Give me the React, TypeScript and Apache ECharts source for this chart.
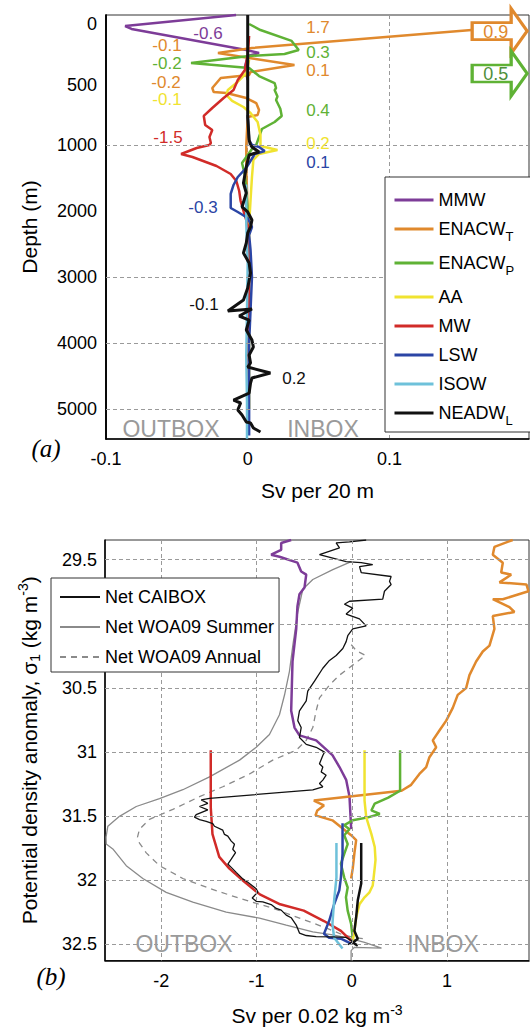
import React, { useEffect, useRef } from 'react';
import * as echarts from 'echarts';

const FONT = "'Liberation Sans', Arial, Helvetica, sans-serif";

const PURPLE = '#7D3C98';
const ORANGE = '#E0892D';
const GREEN = '#5FB235';
const YELLOW = '#F0E330';
const RED = '#D12B28';
const BLUE = '#2B45A5';
const CYAN = '#6EC1DA';
const BLACK = '#111111';
const GRAY = '#8a8a8a';

// Depth where the vertical scale of panel (a) changes
const DEPTH_BREAK = 1000;

// ---- Panel (a): transport per 20 m layer, [Sv, depth (m)] ----
const mmwA = [[-0.0082, -74], [-0.0865, 17], [-0.082, 41], [-0.001, 215], [0.008, 240], [0, 264], [-0.002, 355], [0, 463]];
const enacwTA = [[0.158, 50], [0.003, 198], [-0.021, 240], [0.001, 281], [0.033, 339], [0.002, 397], [0.001, 421], [-0.019, 446], [-0.025, 529], [-0.024, 562], [-0.015, 570], [-0.001, 612], [0.006, 653], [0.008, 711], [0.007, 752], [0, 769], [-0.001, 1000], [-0.001, 1379], [0, 2000], [0.001, 3000], [0, 4000], [0.001, 4700]];
const enacwPA = [[0.001, 0], [0.009, 50], [0.031, 140], [0.036, 215], [0.026, 248], [0.001, 264], [-0.04, 322], [0.001, 364], [0.008, 430], [0.019, 488], [0.02, 530], [0.019, 545], [0.021, 600], [0.02, 628], [0.023, 700], [0.024, 760], [0.019, 810], [0.01, 868], [0.008, 934], [0.006, 1000], [0.004, 1030], [-0.001, 1182], [-0.004, 1273], [-0.002, 1455], [-0.001, 1700], [0, 2000]];
const aaA = [[0.001, 298], [-0.001, 405], [-0.008, 488], [-0.014, 545], [-0.015, 587], [-0.011, 636], [-0.003, 686], [0.002, 736], [0.007, 810], [0.009, 917], [0.009, 1000], [0.009, 1015], [0.021, 1076], [0.008, 1136], [0.004, 1227], [0.003, 1485], [0.002, 1833], [0.001, 2212], [0.001, 3000], [0.001, 4000], [0.001, 5000]];
const mwA = [[0.001, 99], [0, 256], [-0.002, 380], [-0.007, 463], [-0.01, 545], [-0.017, 612], [-0.025, 694], [-0.031, 760], [-0.03, 835], [-0.025, 876], [-0.027, 934], [-0.026, 983], [-0.027, 1000], [-0.036, 1045], [-0.047, 1136], [-0.039, 1182], [-0.022, 1318], [-0.012, 1439], [-0.008, 1545], [-0.006, 1697], [-0.005, 1848], [-0.003, 2000], [0, 2212], [0.001, 3000], [0.0005, 4000], [0.0005, 5000]];
const lswA = [[0, 752], [0.001, 959], [0.003, 1000], [0.008, 1030], [0.012, 1091], [0.005, 1136], [-0.001, 1348], [-0.007, 1485], [-0.01, 1606], [-0.012, 1742], [-0.012, 1848], [-0.012, 1955], [-0.007, 2015], [0, 2106], [0.003, 2242], [0.001, 2364], [0.002, 2590], [0.003, 3000], [0.002, 3500], [0.001, 4000], [0.001, 4500], [0.001, 5000], [0.001, 5400]];
const isowA = [[-0.001, 1600], [-0.001, 2200], [0, 2800], [-0.0005, 3500], [-0.001, 4200], [-0.0005, 4900], [-0.0005, 5450]];
const neadwA = [[0, -74], [0, 769], [0.001, 959], [0.002, 1000], [0.003, 1030], [0.008, 1106], [0.001, 1152], [-0.001, 1333], [-0.003, 1576], [-0.001, 1727], [-0.004, 1939], [0, 2015], [0.003, 2136], [0.002, 2242], [0, 2333], [-0.001, 2485], [-0.003, 2636], [0.001, 2788], [0.002, 2939], [0, 3167], [-0.003, 3348], [-0.014, 3515], [0.003, 3485], [-0.006, 3591], [0.001, 3652], [-0.001, 3803], [0.003, 3955], [0.004, 4061], [0.001, 4182], [0.002, 4303], [0, 4364], [0.016, 4455], [0.003, 4530], [0.002, 4606], [0.001, 4758], [-0.01, 4864], [-0.005, 4909], [-0.007, 5015], [-0.004, 5091], [-0.001, 5197], [0.002, 5212], [0.004, 5288], [0.009, 5348]];

// ---- Panel (b): transport per 0.02 kg m-3 class, [Sv, sigma1] ----
const mmwB = [[-0.636, 29.346], [-0.741, 29.369], [-0.741, 29.423], [-0.846, 29.461], [-0.759, 29.477], [-0.57, 29.523], [-0.531, 29.592], [-0.478, 29.616], [-0.496, 29.716], [-0.549, 29.77], [-0.57, 29.862], [-0.583, 30.039], [-0.622, 30.294], [-0.636, 30.679], [-0.601, 30.81], [-0.549, 30.871], [-0.374, 30.91], [-0.203, 31.025], [-0.129, 31.118], [-0.059, 31.218], [-0.024, 31.349], [-0.006, 31.603]];
const enacwTB = [[1.689, 29.346], [1.497, 29.4], [1.48, 29.461], [1.585, 29.523], [1.568, 29.6], [1.673, 29.616], [1.55, 29.677], [1.833, 29.693], [1.854, 29.746], [1.585, 29.808], [1.48, 29.808], [1.655, 29.87], [1.707, 29.908], [1.48, 29.939], [1.497, 30.039], [1.445, 30.17], [1.375, 30.216], [1.305, 30.294], [1.235, 30.401], [1.2, 30.502], [1.112, 30.555], [1.06, 30.656], [0.991, 30.756], [0.92, 30.833], [0.85, 30.91], [0.886, 30.964], [0.815, 31.041], [0.781, 31.118], [0.71, 31.172], [0.623, 31.257], [0.522, 31.303], [-0.398, 31.38], [-0.292, 31.418], [-0.362, 31.457], [-0.381, 31.495], [-0.203, 31.534], [-0.007, 31.65], [0.046, 31.688], [0.028, 31.788], [0.01, 31.911], [-0.007, 31.988]];
const enacwPB = [[0.507, 30.987], [0.507, 31.303], [0.383, 31.357], [0.241, 31.403], [0.206, 31.457], [0.294, 31.484], [0.17, 31.511], [0.01, 31.534], [-0.079, 31.572], [-0.024, 31.603], [-0.079, 31.65], [-0.043, 31.719], [-0.079, 31.796], [-0.114, 31.873], [-0.079, 31.981], [-0.043, 32.058], [-0.061, 32.135], [-0.043, 32.239], [-0.007, 32.343], [0.01, 32.451]];
const aaB = [[0.134, 30.987], [0.134, 31.38], [0.152, 31.511], [0.206, 31.642], [0.241, 31.742], [0.249, 31.842], [0.241, 31.903], [0.22, 32.042], [0.186, 32.096], [0.134, 32.135], [0.081, 32.189], [0.046, 32.289], [0.028, 32.397], [0.01, 32.474]];
const mwB = [[-1.48, 30.987], [-1.48, 31.434], [-1.462, 31.642], [-1.391, 31.819], [-1.284, 31.911], [-1.143, 32.004], [-0.965, 32.112], [-0.752, 32.189], [-0.504, 32.239], [-0.292, 32.32], [-0.114, 32.397], [-0.007, 32.474]];
const lswB = [[-0.097, 31.557], [-0.097, 31.796], [-0.114, 31.981], [-0.131, 32.081], [-0.185, 32.189], [-0.238, 32.32], [-0.292, 32.42], [-0.238, 32.451], [-0.114, 32.458], [-0.007, 32.497]];
const isowB = [[-0.161, 31.711], [-0.161, 31.981], [-0.185, 32.158], [-0.203, 32.343], [-0.185, 32.451], [-0.097, 32.535]];
const neadwB = [[0.099, 31.711], [0.099, 32.027], [0.063, 32.158], [0.046, 32.289], [0.028, 32.397], [0.063, 32.458], [0.01, 32.489], [0.063, 32.512]];
const caiboxB = [[0.151, 29.346], [-0.024, 29.361], [-0.164, 29.369], [-0.129, 29.408], [-0.339, 29.461], [-0.059, 29.515], [0.099, 29.523], [0.22, 29.539], [0.081, 29.554], [0.099, 29.6], [0.413, 29.631], [0.396, 29.669], [0.413, 29.693], [0.343, 29.746], [0.325, 29.808], [-0.024, 29.824], [-0.077, 29.847], [0.01, 29.878], [-0.059, 29.924], [0.081, 29.962], [0.151, 30.016], [0.01, 30.039], [-0.042, 30.093], [-0.059, 30.139], [-0.094, 30.193], [-0.164, 30.247], [-0.234, 30.286], [-0.304, 30.347], [-0.391, 30.448], [-0.462, 30.525], [-0.478, 30.602], [-0.549, 30.679], [-0.567, 30.756], [-0.531, 30.81], [-0.549, 30.887], [-0.478, 30.941], [-0.374, 30.964], [-0.286, 31.002], [-0.304, 31.028], [-0.339, 31.092], [-0.304, 31.118], [-0.321, 31.156], [-0.269, 31.182], [-0.304, 31.22], [-0.339, 31.246], [-0.304, 31.272], [-0.409, 31.297], [-1.493, 31.362], [-1.58, 31.374], [-1.511, 31.401], [-1.598, 31.426], [-1.511, 31.452], [-1.633, 31.49], [-1.651, 31.509], [-1.598, 31.529], [-1.528, 31.542], [-1.459, 31.559], [-1.441, 31.58], [-1.354, 31.611], [-1.336, 31.644], [-1.301, 31.657], [-1.265, 31.696], [-1.231, 31.721], [-1.249, 31.76], [-1.22, 31.786], [-1.265, 31.837], [-1.301, 31.875], [-1.265, 31.901], [-1.213, 31.94], [-1.144, 31.991], [-1.091, 32.017], [-1.003, 32.068], [-0.986, 32.094], [-1.045, 32.14], [-1.003, 32.166], [-0.934, 32.171], [-0.846, 32.191], [-0.793, 32.222], [-0.741, 32.235], [-0.688, 32.274], [-0.636, 32.294], [-0.583, 32.351], [-0.549, 32.414], [-0.478, 32.433], [-0.374, 32.441], [-0.199, 32.443], [-0.059, 32.448], [0.01, 32.479], [-0.042, 32.505]];
const summerB = [[-0.006, 29.515], [-0.199, 29.577], [-0.409, 29.654], [-0.514, 29.731], [-0.567, 29.908], [-0.619, 30.17], [-0.654, 30.371], [-0.706, 30.556], [-0.759, 30.71], [-0.864, 30.864], [-1.003, 30.964], [-1.178, 31.064], [-1.493, 31.195], [-1.773, 31.295], [-2.018, 31.364], [-2.262, 31.426], [-2.438, 31.503], [-2.56, 31.58], [-2.579, 31.665], [-2.577, 31.719], [-2.508, 31.757], [-2.367, 31.888], [-2.193, 31.988], [-1.948, 32.096], [-1.668, 32.173], [-1.318, 32.25], [-0.969, 32.297], [-0.688, 32.351], [-0.409, 32.404], [-0.199, 32.428], [-0.042, 32.451], [0.134, 32.486], [0.312, 32.531], [0.028, 32.525], [-0.007, 32.551], [-0.007, 32.628]];
const annualB = [[-0.006, 30.163], [0.046, 30.209], [0.144, 30.247], [-0.129, 30.401], [-0.234, 30.478], [-0.339, 30.579], [-0.374, 30.679], [-0.409, 30.81], [-0.478, 30.91], [-0.583, 30.987], [-0.829, 31.064], [-1.073, 31.172], [-1.354, 31.272], [-1.598, 31.349], [-1.878, 31.449], [-2.123, 31.526], [-2.228, 31.603], [-2.249, 31.665], [-2.228, 31.711], [-2.157, 31.788], [-2.018, 31.888], [-1.773, 31.988], [-1.493, 32.065], [-1.178, 32.143], [-0.829, 32.22], [-0.549, 32.297], [-0.269, 32.374], [-0.094, 32.428], [0.039, 32.451], [0.133, 32.458]];

// Axis ticks
const depthTicksUpper = [0, 500, 1000];
const depthTicksLower = [2000, 3000, 4000, 5000];
const depthGridUpper = [1000];
const depthGridLower = [3000, 4000, 5000];
const sigmaTicks = [29.5, 30, 30.5, 31, 31.5, 32, 32.5];
const svTicksB = [-2, -1, 0, 1];

// Off-scale totals shown as arrows in panel (a): [Sv position, depth, label]
const arrowOrange = [0.1778, 58, '0.9'];
const arrowGreen = [0.1778, 409, '0.5'];

const masses = [
  { name: 'MMW', color: PURPLE, a: mmwA, b: mmwB },
  { name: 'ENACW_T', color: ORANGE, a: enacwTA, b: enacwTB },
  { name: 'ENACW_P', color: GREEN, a: enacwPA, b: enacwPB },
  { name: 'AA', color: YELLOW, a: aaA, b: aaB },
  { name: 'MW', color: RED, a: mwA, b: mwB },
  { name: 'LSW', color: BLUE, a: lswA, b: lswB },
  { name: 'ISOW', color: CYAN, a: isowA, b: isowB },
  { name: 'NEADW_L', color: BLACK, a: neadwA, b: neadwB },
];

// Integrated transports written next to the profiles in panel (a)
const notesA = [
  { t: '-0.6', c: PURPLE, x: 208, y: 33 },
  { t: '-0.1', c: ORANGE, x: 167, y: 45 },
  { t: '-0.2', c: GREEN, x: 167, y: 63 },
  { t: '-0.2', c: ORANGE, x: 166, y: 82 },
  { t: '-0.1', c: YELLOW, x: 167, y: 99 },
  { t: '-1.5', c: RED, x: 168, y: 137 },
  { t: '-0.3', c: BLUE, x: 203, y: 207 },
  { t: '1.7', c: ORANGE, x: 318, y: 27 },
  { t: '0.3', c: GREEN, x: 318, y: 52 },
  { t: '0.1', c: ORANGE, x: 318, y: 70 },
  { t: '0.4', c: GREEN, x: 318, y: 110 },
  { t: '0.2', c: YELLOW, x: 318, y: 143 },
  { t: '0.1', c: BLUE, x: 318, y: 162 },
  { t: '-0.1', c: BLACK, x: 204, y: 304 },
  { t: '0.2', c: BLACK, x: 294, y: 378 },
];

const ARROW_PATH = 'path://M0 14L39 14L39 0L55 22.5L39 45L39 31L0 31Z';

const dashed = { color: '#9a9a9a', width: 1, type: [4, 3] as any };

function gridLines(values: number[], key: 'xAxis' | 'yAxis') {
  return {
    silent: true,
    symbol: ['none', 'none'],
    label: { show: false },
    lineStyle: dashed,
    data: values.map((v) => ({ [key]: v })),
  };
}

function textEl(t: string, x: number, y: number, fill: string, size: number, extra: any = {}) {
  const family = extra.fontFamily || FONT;
  const fstyle = extra.fontStyle || 'normal';
  return {
    type: 'text',
    x,
    y,
    z: 50,
    silent: true,
    style: {
      text: t,
      fill,
      fontSize: size,
      fontFamily: family,
      fontStyle: fstyle,
      font: `${fstyle} ${size}px ${family}`,
      lineHeight: extra.lineHeight || size + 2,
      align: 'center',
      verticalAlign: 'middle',
      textAlign: 'center',
      textVerticalAlign: 'middle',
    },
  };
}

export default function App() {
  const ref = useRef<HTMLDivElement>(null);

  useEffect(() => {
    if (!ref.current) return;
    const chart = echarts.init(ref.current, null, { renderer: 'svg' });

    const series: any[] = [];

    // dashed reference lines
    series.push({ type: 'line', xAxisIndex: 0, yAxisIndex: 0, data: [], markLine: gridLines(depthGridUpper, 'yAxis') });
    series.push({ type: 'line', xAxisIndex: 0, yAxisIndex: 1, data: [], markLine: gridLines(depthGridLower, 'yAxis') });
    series.push({
      type: 'line', xAxisIndex: 1, yAxisIndex: 2, data: [],
      markLine: {
        ...gridLines(sigmaTicks, 'yAxis'),
        data: [...sigmaTicks.map((v) => ({ yAxis: v })), ...svTicksB.map((v) => ({ xAxis: v }))],
      },
    });

    // panel (a): profiles, split at the depth-scale break
    masses.forEach((m) => {
      const upper = m.a.filter((p) => p[1] <= DEPTH_BREAK);
      const lower = m.a.filter((p) => p[1] >= DEPTH_BREAK);
      const base = {
        name: m.name,
        type: 'line',
        xAxisIndex: 0,
        symbol: 'none',
        clip: false,
        lineStyle: { color: m.color, width: m.name === 'NEADW_L' ? 3 : 2.5 },
        itemStyle: { color: m.color },
      };
      if (upper.length > 1) {
        const s: any = { ...base, yAxisIndex: 0, data: upper };
        if (m.name === 'ENACW_T' || m.name === 'ENACW_P') {
          const arr = m.name === 'ENACW_T' ? arrowOrange : arrowGreen;
          s.markPoint = {
            symbol: ARROW_PATH,
            symbolSize: [55, 45],
            symbolKeepAspect: false,
            silent: true,
            itemStyle: { color: '#ffffff', borderColor: m.color, borderWidth: 3 },
            label: {
              show: true,
              position: 'inside',
              formatter: String(arr[2]),
              color: m.name === 'ENACW_T' ? ORANGE : '#4f8f3a',
              fontSize: 18,
              fontFamily: FONT,
              offset: [-4, 1],
            },
            data: [{ coord: [arr[0], arr[1]] }],
          };
        }
        series.push(s);
      }
      if (lower.length > 1) series.push({ ...base, yAxisIndex: 1, data: lower });
    });

    // panel (b)
    series.push({
      name: 'Net WOA09 Summer', type: 'line', xAxisIndex: 1, yAxisIndex: 2, symbol: 'none',
      lineStyle: { color: GRAY, width: 1.3 }, itemStyle: { color: GRAY }, data: summerB,
    });
    series.push({
      name: 'Net WOA09 Annual', type: 'line', xAxisIndex: 1, yAxisIndex: 2, symbol: 'none',
      lineStyle: { color: GRAY, width: 1.3, type: [6, 5] }, itemStyle: { color: GRAY }, data: annualB,
    });
    masses.forEach((m) => {
      series.push({
        name: m.name, type: 'line', xAxisIndex: 1, yAxisIndex: 2, symbol: 'none',
        lineStyle: { color: m.color, width: 2.5 }, itemStyle: { color: m.color }, data: m.b,
      });
    });
    series.push({
      name: 'Net CAIBOX', type: 'line', xAxisIndex: 1, yAxisIndex: 2, symbol: 'none',
      lineStyle: { color: BLACK, width: 1.3 }, itemStyle: { color: BLACK }, data: caiboxB,
    });

    const tickLabel = { fontSize: 18, fontFamily: FONT, color: '#000' };
    const axisLine = { show: true, onZero: false, lineStyle: { color: '#000', width: 1.5 } };
    const plain = (v: number) => String(+v.toFixed(2));

    const option: any = {
      animation: false,
      textStyle: { fontFamily: FONT },
      grid: [
        { left: 106, top: 15, width: 423, height: 424, show: true, borderColor: '#333', borderWidth: 1, backgroundColor: 'transparent' },
        { left: 105, top: 540, width: 424, height: 426, show: true, borderColor: '#333', borderWidth: 1, backgroundColor: 'transparent' },
      ],
      xAxis: [
        {
          type: 'value', gridIndex: 0, min: -0.1, max: 0.1985, interval: 0.1,
          axisLine, axisTick: { show: false },
          axisLabel: { ...tickLabel, margin: 11, showMaxLabel: false, formatter: (v: number) => (Math.abs(v) < 1e-9 ? '0' : String(+v.toFixed(1))) },
          splitLine: { show: true, lineStyle: dashed },
          name: 'Sv per 20 m', nameLocation: 'middle', nameGap: 41,
          nameTextStyle: { fontSize: 21, fontFamily: FONT, color: '#000' },
        },
        {
          type: 'value', gridIndex: 1, min: -2.59, max: 1.86,
          axisLine, axisTick: { show: false, customValues: svTicksB },
          axisLabel: { ...tickLabel, margin: 11, customValues: svTicksB, formatter: (v: number) => String(Math.round(v)) },
          splitLine: { show: false },
          name: '{n|Sv per 0.02 kg m}{sup|-3}', nameLocation: 'middle', nameGap: 42,
          nameTextStyle: {
            fontSize: 21, fontFamily: FONT, color: '#000',
            rich: {
              n: { fontSize: 21, fontFamily: FONT, color: '#000', lineHeight: 26 },
              sup: { fontSize: 14, fontFamily: FONT, color: '#000', lineHeight: 14, verticalAlign: 'top' },
            },
          },
        },
      ],
      yAxis: [
        {
          type: 'value', gridIndex: 0, position: 'left', inverse: true, min: -74.4, max: 3429.8,
          axisLine, axisTick: { show: false, customValues: depthTicksUpper },
          axisLabel: { ...tickLabel, margin: 9, customValues: depthTicksUpper, formatter: plain },
          splitLine: { show: false },
          name: 'Depth (m)', nameLocation: 'middle', nameGap: 66,
          nameTextStyle: { fontSize: 21, fontFamily: FONT, color: '#000' },
        },
        {
          type: 'value', gridIndex: 0, position: 'left', inverse: true, min: -969.7, max: 5454.5,
          axisLine, axisTick: { show: false, customValues: depthTicksLower },
          axisLabel: { ...tickLabel, margin: 9, customValues: depthTicksLower, formatter: plain },
          splitLine: { show: false },
        },
        {
          type: 'value', gridIndex: 1, inverse: true, min: 29.346, max: 32.628,
          axisLine, axisTick: { show: false, customValues: sigmaTicks },
          axisLabel: { ...tickLabel, margin: 8, customValues: sigmaTicks, formatter: (v: number) => String(+v.toFixed(1)) },
          splitLine: { show: false },
          name: '{n|Potential density anomaly, σ}{sub|1}{n| (kg m}{sup|-3}{n|)}',
          nameLocation: 'middle', nameGap: 63,
          nameTextStyle: {
            fontSize: 21, fontFamily: FONT, color: '#000',
            rich: {
              n: { fontSize: 21, fontFamily: FONT, color: '#000', lineHeight: 26 },
              sub: { fontSize: 14, fontFamily: FONT, color: '#000', lineHeight: 14, verticalAlign: 'bottom' },
              sup: { fontSize: 14, fontFamily: FONT, color: '#000', lineHeight: 14, verticalAlign: 'top' },
            },
          },
        },
      ],
      legend: [
        {
          data: masses.map((m) => m.name),
          orient: 'vertical', left: 385, top: 177,
          padding: [14, 20, 5, 8], itemWidth: 39, itemHeight: 14, itemGap: 11,
          backgroundColor: '#fff', borderColor: '#333', borderWidth: 1, borderRadius: 0,
          selectedMode: false, z: 20,
          itemStyle: { opacity: 0 },
          lineStyle: { width: 3 },
          formatter: (name: string) => {
            const p = name.split('_');
            return p.length > 1 ? `{n|${p[0]}}{s|${p[1]}}` : `{n|${name}}`;
          },
          textStyle: {
            fontSize: 18, fontFamily: FONT, color: '#000',
            rich: {
              n: { fontSize: 18, fontFamily: FONT, color: '#000', lineHeight: 28 },
              s: { fontSize: 13, fontFamily: FONT, color: '#000', lineHeight: 13, verticalAlign: 'bottom' },
            },
          },
        },
        {
          data: ['Net CAIBOX', 'Net WOA09 Summer', 'Net WOA09 Annual'],
          orient: 'vertical', left: 51, top: 578,
          padding: [9, 5, 5, 8], itemWidth: 40, itemHeight: 14, itemGap: 10,
          backgroundColor: '#fff', borderColor: '#333', borderWidth: 1, borderRadius: 0,
          selectedMode: false, z: 20,
          itemStyle: { opacity: 0 },
          textStyle: { fontSize: 18, fontFamily: FONT, color: '#000', lineHeight: 20 },
        },
      ],
      graphic: [
        ...notesA.map((n) => textEl(n.t, n.x, n.y, n.c, 17, { lineHeight: 16 })),
        textEl('OUTBOX', 171, 429, '#9a9a9a', 23),
        textEl('INBOX', 323, 429, '#9a9a9a', 23),
        textEl('OUTBOX', 184, 944, '#9a9a9a', 23),
        textEl('INBOX', 443, 944, '#9a9a9a', 23),
        textEl('(a)', 46, 448, '#000', 25, { fontStyle: 'italic', fontFamily: "'Liberation Serif', 'Times New Roman', serif" }),
        textEl('(b)', 51, 976, '#000', 25, { fontStyle: 'italic', fontFamily: "'Liberation Serif', 'Times New Roman', serif" }),
      ],
      series,
    };

    chart.setOption(option);
    return () => chart.dispose();
  }, []);

  return (
    <div
      ref={ref}
      style={{ position: 'absolute', left: 0, top: 0, width: 530, height: 1027, background: '#fff' }}
    />
  );
}
